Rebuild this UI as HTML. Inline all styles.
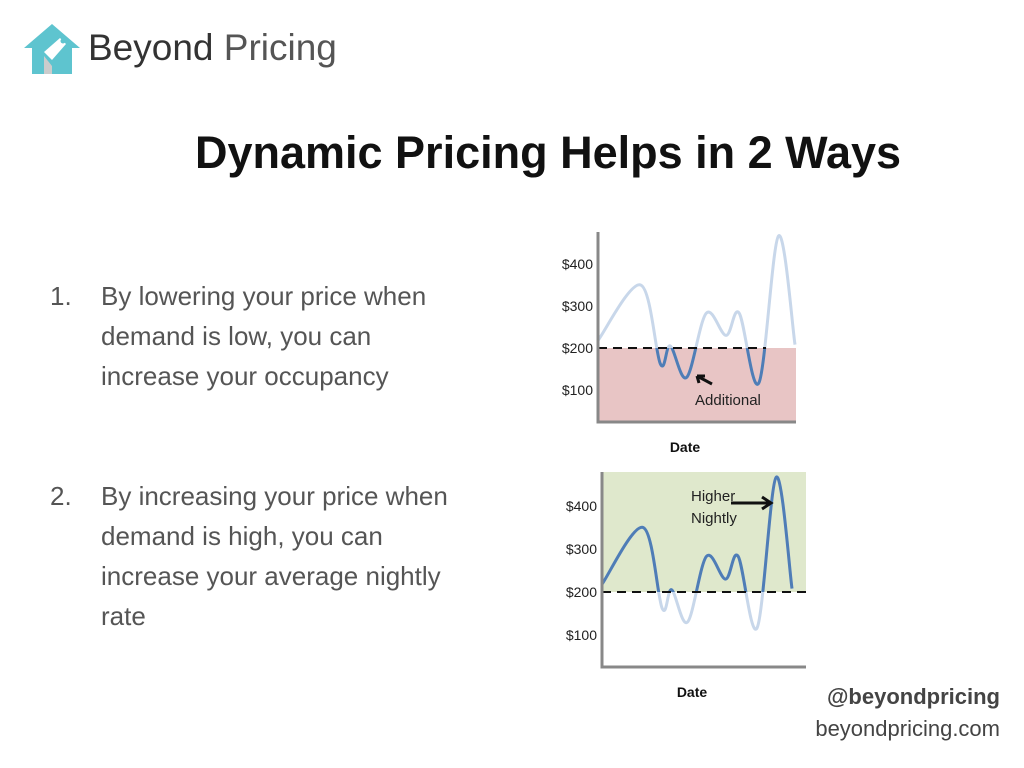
<!DOCTYPE html>
<html><head><meta charset="utf-8"><style>
body{margin:0;width:1024px;height:768px;background:#fff;position:relative;overflow:hidden;font-family:"Liberation Sans",sans-serif}
.abs{position:absolute}
.list{font-size:26px;color:#555;line-height:40px}
</style></head><body>
<div class="abs" style="left:22px;top:22px;width:340px;height:56px">
<svg width="60" height="56" viewBox="0 0 60 56"><path d="M2 26 L30 2 L58 26 L50 26 L50 52 L10 52 L10 26 Z" fill="#5ec4cf"/><path d="M22 30 L38 16 L44 22 L30 38 Z" fill="#fff"/><circle cx="41" cy="19" r="2.5" fill="#5ec4cf"/><path d="M22 34 L30 44 L30 52 L22 52Z" fill="#ccc"/></svg>
<span class="abs" style="left:66px;top:5px;font-size:37px;color:#333;white-space:nowrap">Beyond <span style="color:#555">Pricing</span></span>
</div>
<div class="abs" style="left:0;width:1096px;top:127px;text-align:center;font-size:45px;font-weight:bold;color:#111">Dynamic Pricing Helps in 2 Ways</div>
<div class="abs list" style="left:50px;top:276px"><span class="abs">1.</span><div style="margin-left:51px;width:370px">By lowering your price when demand is low, you can increase your occupancy</div></div>
<div class="abs list" style="left:50px;top:476px"><span class="abs">2.</span><div style="margin-left:51px;width:370px">By increasing your price when demand is high, you can increase your average nightly rate</div></div>
<div class="abs" style="right:24px;top:684px;font-size:22px;font-weight:bold;color:#444">@beyondpricing</div>
<div class="abs" style="right:24px;top:716px;font-size:22px;color:#444">beyondpricing.com</div>
<svg class="abs" style="left:0;top:0" width="1024" height="768" id="charts"></svg>
<script>
const days=[0,13,19,22,27,33,39,43,49,55,60];
const prices=[218,350,162,205,130,283,230,283,117,467,208];
const ticks=[100,200,300,400];
const tickLabels=["$100","$200","$300","$400"];
const threshold=200;
const NS="http://www.w3.org/2000/svg";
const svg=document.getElementById('charts');
function mk(t,a,p){const e=document.createElementNS(NS,t);for(const k in a)e.setAttribute(k,a[k]);(p||svg).appendChild(e);return e;}
function path(xs,ys){const n=xs.length;const pts=xs.map((x,i)=>[xs[i],ys[i]]);let d=`M${pts[0][0]},${pts[0][1]}`;
for(let i=0;i<n-1;i++){const p0=pts[Math.max(0,i-1)],p1=pts[i],p2=pts[i+1],p3=pts[Math.min(n-1,i+2)];
const c1=[p1[0]+(p2[0]-p0[0])/6,p1[1]+(p2[1]-p0[1])/6],c2=[p2[0]-(p3[0]-p1[0])/6,p2[1]-(p3[1]-p1[1])/6];
d+=` C${c1[0]},${c1[1]} ${c2[0]},${c2[1]} ${p2[0]},${p2[1]}`;}return d;}
function chart(id,x0,x1,xd1,yTop,yBot,y200,per100,mode){
 const g=mk('g',{});
 const xs=v=>x0+(v-days[0])/(days[days.length-1]-days[0])*(xd1-x0);
 const ys=v=>y200-(v-200)*per100/100;
 const yT=ys(threshold);
 if(mode==='low'){const r=mk('rect',{x:x0,y:yT,width:x1-x0,height:yBot-yT,fill:'#e8c5c5'},g);}
 else{const r=mk('rect',{x:x0,y:yTop,width:x1-x0,height:yT-yTop,fill:'#dfe8cc'},g);}
 const d=path(days.map(xs),prices.map(ys));
 const cid='clip-'+id;const cp=mk('clipPath',{id:cid},g);
 if(mode==='low')mk('rect',{x:x0,y:yT,width:x1-x0+10,height:yBot-yT},cp);else mk('rect',{x:x0,y:yTop-20,width:x1-x0+10,height:yT-yTop+20},cp);
 const l1=mk('path',{d:d,fill:'none',stroke:'#c8d7ea','stroke-width':3},g);
 const l2=mk('path',{d:d,fill:'none',stroke:'#4f7db6','stroke-width':3,'clip-path':`url(#${cid})`},g);
 const dl=mk('line',{x1:x0,x2:x1+(mode==='low'?-30:0),y1:yT,y2:yT,stroke:'#111','stroke-width':2,'stroke-dasharray':'9,6'},g);
 const ax=mk('path',{d:`M${x0},${yTop} L${x0},${yBot} L${x1},${yBot}`,fill:'none',stroke:'#888','stroke-width':3},g);
 ticks.forEach((t,i)=>{const tx=mk('text',{x:x0-5,y:ys(t)+5,'text-anchor':'end','font-size':14,fill:'#222'},g);tx.textContent=tickLabels[i];});
 const xl=mk('text',{x:(x0+x1)/2-12,y:yBot+30,'text-anchor':'middle','font-size':14,'font-weight':'bold',fill:'#111'},g);xl.textContent='Date';
 return {xs,ys,g};
}
const c1=chart('occupancy-chart',598,796,795,232,422,348,42,'low');
const a1=mk('text',{x:695,y:405,'font-size':15,fill:'#222'},c1.g);a1.textContent='Additional';
const ar1=mk('path',{d:'M712,384 L697,376 M697,376 L705,376 M697,376 L699,383',stroke:'#111','stroke-width':3,fill:'none'},c1.g);
const c2=chart('rate-chart',602,806,792,472,667,592,43,'high');
const a2=mk('text',{x:691,y:501,'font-size':15,fill:'#222'},c2.g);a2.textContent='Higher';
const a3=mk('text',{x:691,y:523,'font-size':15,fill:'#222'},c2.g);a3.textContent='Nightly';
const ar2=mk('path',{d:'M731,503 L770,503 M762,497 L771,503 L762,509',stroke:'#111','stroke-width':3,fill:'none'},c2.g);
</script>
</body></html>
